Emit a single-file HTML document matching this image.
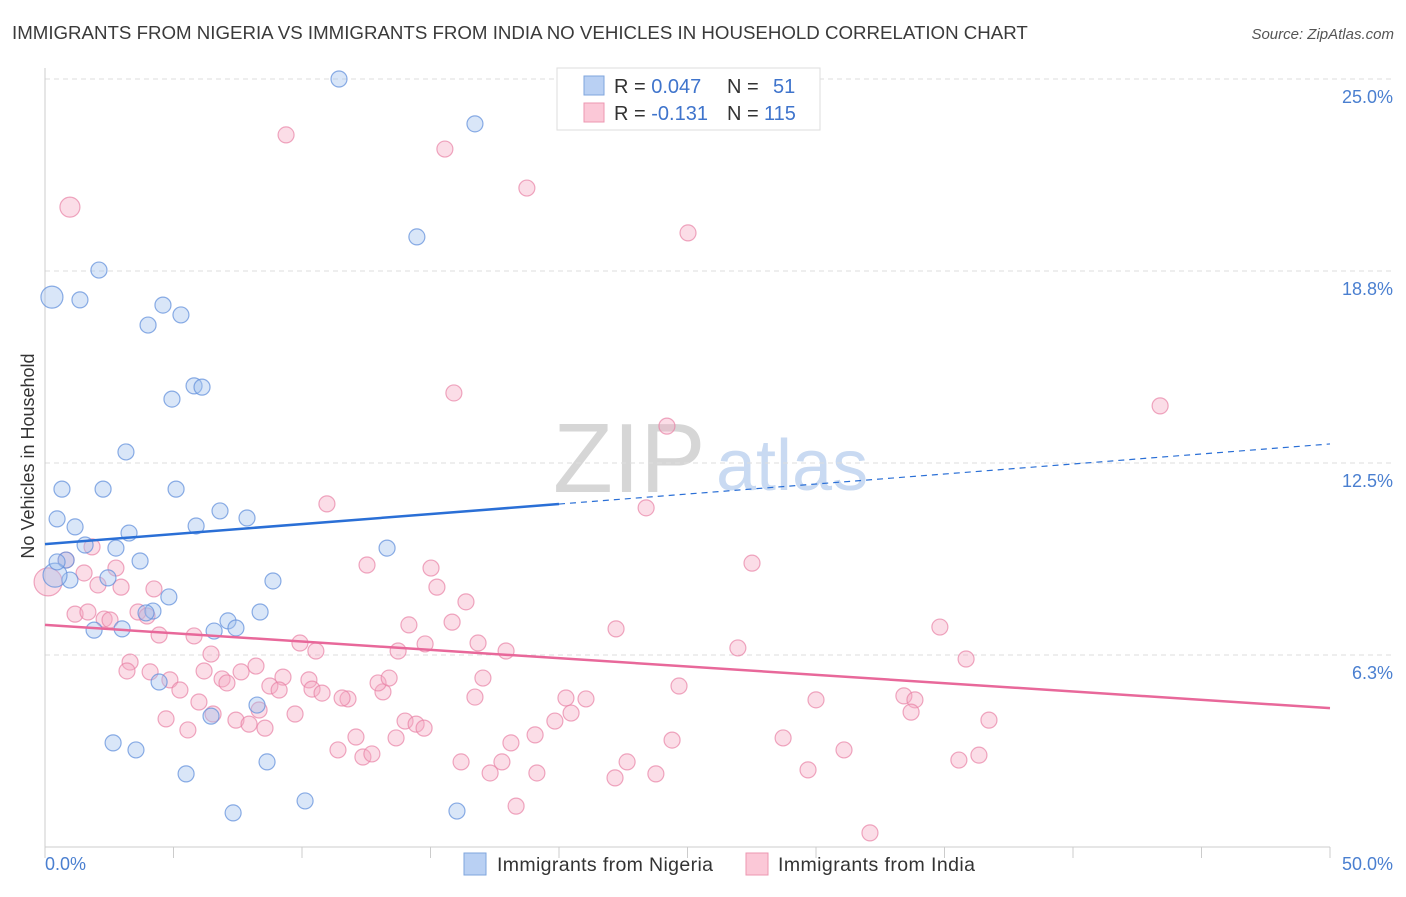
<!DOCTYPE html>
<html><head><meta charset="utf-8"><style>
body{margin:0;background:#fff;font-family:"Liberation Sans",sans-serif}
svg text{font-family:"Liberation Sans",sans-serif}
</style></head><body>
<svg id="chart" width="1406" height="892" viewBox="0 0 1406 892" xmlns="http://www.w3.org/2000/svg">
<text x="12" y="39" font-size="18.7" fill="#3a3a3a">IMMIGRANTS FROM NIGERIA VS IMMIGRANTS FROM INDIA NO VEHICLES IN HOUSEHOLD CORRELATION CHART</text>
<text x="1394" y="39" font-size="15" fill="#555" text-anchor="end" font-style="italic">Source: ZipAtlas.com</text>
<g>
<text x="553" y="492" font-size="98" fill="#d6d6d6" font-family="Liberation Serif,serif">ZIP</text>
<text x="716" y="490" font-size="72" fill="#c9daf2">atlas</text>
</g>
<g id="grid"></g>
<line x1="45" y1="68" x2="45" y2="847" stroke="#ccc"/>
<line x1="45" y1="847" x2="1330" y2="847" stroke="#ccc"/>
<g id="xticks"></g>
<text transform="translate(34,456) rotate(-90)" font-size="18" fill="#333" text-anchor="middle">No Vehicles in Household</text>
<text x="45" y="870" font-size="18" fill="#4a7fd0">0.0%</text>
<text x="1393" y="870" font-size="18" fill="#4a7fd0" text-anchor="end">50.0%</text>
<g id="pts"></g>
<g id="lines"></g>
<g>
<rect x="557" y="68" width="263" height="62" fill="#fff" stroke="#ddd"/>
<rect x="584" y="76" width="20" height="19" fill="#b9d0f3" stroke="#7fa6de"/>
<rect x="584" y="103" width="20" height="19" fill="#fbc8d7" stroke="#ec97b2"/>
<text x="614" y="93" font-size="20" fill="#333">R = <tspan fill="#3f74cc">0.047</tspan><tspan x="727">N =</tspan><tspan x="773" fill="#3f74cc">51</tspan></text>
<text x="614" y="120" font-size="20" fill="#333">R = <tspan fill="#3f74cc">-0.131</tspan><tspan x="727">N =</tspan><tspan x="764" fill="#3f74cc">115</tspan></text>
</g>
<g>
<rect x="464" y="853" width="22" height="22" fill="#b9d0f3" stroke="#7fa6de"/>
<text x="497" y="871" font-size="19.5" fill="#333" textLength="216">Immigrants from Nigeria</text>
</g>
<g>
<rect x="746" y="853" width="22" height="22" fill="#fbc8d7" stroke="#ec97b2"/>
<text x="778" y="871" font-size="19.5" fill="#333" textLength="197">Immigrants from India</text>
</g>
</svg>
<script>
const yTicks=[6.25,12.5,18.75,25];
const yTickLabels=["6.3%","12.5%","18.8%","25.0%"];
const nigeriaX=[11.44,16.73,14.47,2.10,0.27,1.36,4.59,5.29,4.01,5.80,6.11,4.94,3.15,0.66,2.26,5.10,0.47,6.81,7.86,1.17,5.88,3.27,1.56,2.76,13.31,0.82,3.70,2.45,0.97,8.87,4.82,4.20,3.93,8.37,7.12,1.91,3.00,6.58,7.43,4.44,8.25,6.46,2.65,3.54,5.49,8.64,10.12,7.32,16.03,0.39,0.47];
const nigeriaY=[25.0,23.54,19.86,18.78,17.90,17.81,17.64,17.32,16.99,15.01,14.97,14.58,12.86,11.65,11.65,11.65,10.68,10.94,10.71,10.42,10.45,10.22,9.83,9.73,9.73,9.34,9.31,8.76,8.69,8.66,8.14,7.68,7.62,7.65,7.36,7.06,7.10,7.03,7.13,5.37,4.62,4.26,3.39,3.16,2.38,2.77,1.50,1.11,1.17,8.85,9.28];
const indiaX=[9.38,15.56,18.75,0.97,25.02,43.39,15.91,24.20,10.97,23.39,27.51,12.53,15.02,15.25,16.38,0.82,1.83,1.52,2.76,2.96,2.06,4.24,1.17,1.67,2.30,2.53,3.62,3.97,4.44,5.80,6.46,9.92,10.54,14.16,15.84,16.85,17.94,13.74,14.79,22.22,26.96,34.82,35.84,3.31,3.19,4.09,4.86,5.25,6.19,6.89,7.63,8.21,9.26,10.27,8.75,9.11,7.08,10.39,10.78,11.79,11.56,13.15,12.96,13.39,17.04,16.73,20.27,21.05,24.67,30.00,33.42,33.85,4.71,5.99,6.54,7.43,7.94,8.33,8.56,5.56,9.73,14.01,14.44,14.75,20.47,19.84,36.73,33.70,12.10,13.66,11.40,12.37,12.72,18.13,19.07,24.40,28.72,31.09,16.19,17.32,17.78,22.65,19.14,23.77,22.18,29.69,35.56,36.34,18.33,32.10,0.12];
const indiaY=[23.18,22.72,21.45,20.83,19.99,14.36,14.78,13.70,11.17,11.04,9.24,9.18,9.08,8.46,7.98,9.34,9.77,8.92,9.08,8.46,8.53,8.40,7.58,7.65,7.42,7.39,7.65,7.52,6.90,6.87,6.28,6.64,6.38,7.23,7.32,6.64,6.38,6.38,6.61,7.10,6.48,7.16,6.12,6.02,5.73,5.70,5.44,5.11,5.73,5.47,5.70,5.89,5.53,5.44,5.24,5.11,5.34,5.14,5.01,4.82,4.85,5.05,5.34,5.50,5.50,4.88,4.85,4.82,5.24,4.79,4.92,4.79,4.17,4.72,4.33,4.13,4.00,4.46,3.87,3.81,4.33,4.10,4.00,3.87,4.36,4.10,4.13,4.39,3.58,3.55,3.16,2.93,3.03,3.39,3.65,3.48,3.55,3.16,2.77,2.41,2.77,2.77,2.41,2.38,2.25,2.51,2.83,2.99,1.33,0.46,8.63];
const nigeriaTrend=[9.86,13.12];
const indiaTrend=[7.23,4.52];
const NS="http://www.w3.org/2000/svg";
const xs=v=>45+v*25.7, ys=v=>847-v*30.72;
function mk(tag,attrs,parent){const e=document.createElementNS(NS,tag);for(const k in attrs)e.setAttribute(k,attrs[k]);parent.appendChild(e);return e;}
const grid=document.getElementById('grid');
yTicks.forEach((t,i)=>{
 const l=mk('line',{x1:45,x2:1393,y1:ys(t),y2:ys(t),stroke:'#ddd','stroke-dasharray':'5,4'},grid);
 
 
 const tx=mk('text',{x:1393,y:ys(t)+24,'font-size':18,fill:'#4a7fd0','text-anchor':'end'},grid);
 tx.textContent=yTickLabels[i];
 
 
});
const xt=document.getElementById('xticks');
for(let i=0;i<=10;i++){
 const l=mk('line',{x1:xs(i*5),x2:xs(i*5),y1:847,y2:858,stroke:'#ccc'},xt);
 
 
}
const pts=document.getElementById('pts');
indiaX.forEach((x,i)=>{
 const c=mk('circle',{cx:xs(x),cy:ys(indiaY[i]),r:(i==3?10:(i==indiaX.length-1?14:8)),fill:'rgba(245,170,195,0.4)',stroke:'rgba(232,130,165,0.7)','stroke-width':1.2},pts);
 
 
});
nigeriaX.forEach((x,i)=>{
 const c=mk('circle',{cx:xs(x),cy:ys(nigeriaY[i]),r:(i==4?11:(i==49?12:8)),fill:'rgba(160,192,238,0.4)',stroke:'rgba(100,145,220,0.75)','stroke-width':1.2},pts);
 
 
});
const ln=document.getElementById('lines');
const ty=(a,x)=>a[0]+(a[1]-a[0])*x/50;
let l1=mk('line',{x1:xs(0),y1:ys(ty(nigeriaTrend,0)),x2:xs(20),y2:ys(ty(nigeriaTrend,20)),stroke:'#2a6fd6','stroke-width':2.5},ln);


let l2=mk('line',{x1:xs(20),y1:ys(ty(nigeriaTrend,20)),x2:xs(50),y2:ys(ty(nigeriaTrend,50)),stroke:'#2a6fd6','stroke-width':1.2,'stroke-dasharray':'6,5'},ln);


let l3=mk('line',{x1:xs(0),y1:ys(indiaTrend[0]),x2:xs(50),y2:ys(indiaTrend[1]),stroke:'#e8689a','stroke-width':2.5},ln);


</script>
</body></html>
